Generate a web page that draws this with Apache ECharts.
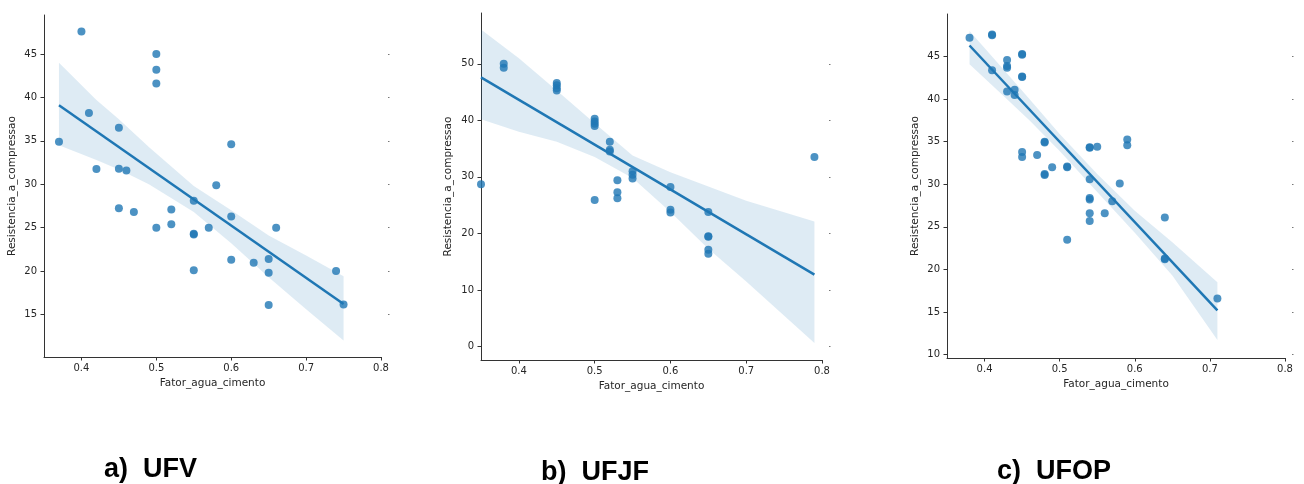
<!DOCTYPE html>
<html>
<head>
<meta charset="utf-8">
<script src="https://cdn.jsdelivr.net/npm/echarts@6/dist/echarts.min.js"></script>
<style>
  html, body { margin: 0; padding: 0; background: #fff; }
  #chart { width: 1304px; height: 484px; }
</style>
</head>
<body>
<div id="chart"></div>
<script>
// valores (Fator agua/cimento x Resistencia a compressao)
const xTicks = [0.4, 0.5, 0.6, 0.7, 0.8];

// a) UFV
const ufvX = [0.40, 0.50, 0.50, 0.50, 0.41, 0.45, 0.37, 0.60, 0.42, 0.45, 0.46, 0.58, 0.55, 0.45, 0.47, 0.52,
  0.60, 0.50, 0.52, 0.57, 0.66, 0.55, 0.55, 0.60, 0.63, 0.65, 0.55, 0.65, 0.74, 0.65, 0.75];
const ufvY = [47.6, 45.0, 43.2, 41.6, 38.2, 36.5, 34.9, 34.6, 31.75, 31.8, 31.6, 29.9, 28.1, 27.25, 26.8, 27.1,
  26.3, 25.0, 25.4, 25.0, 25.0, 24.2, 24.3, 21.3, 20.95, 21.4, 20.1, 19.8, 20.0, 16.1, 16.15];
const ufvFitX = [0.37, 0.75];
const ufvFitY = [39.1, 16.2];
const ufvBandX = [0.37, 0.42, 0.45, 0.49, 0.55, 0.60, 0.65, 0.70, 0.75];
const ufvBandUpper = [44.0, 39.7, 37.5, 34.3, 29.8, 27.0, 24.1, 21.8, 19.4];
const ufvBandLower = [34.5, 32.8, 31.7, 30.0, 26.8, 23.2, 19.3, 15.6, 12.0];
const ufvYTicks = [15, 20, 25, 30, 35, 40, 45];

// b) UFJF
const ufjfX = [0.38, 0.38, 0.45, 0.45, 0.45, 0.45, 0.50, 0.50, 0.50, 0.50, 0.52, 0.52, 0.52, 0.55, 0.55, 0.55,
  0.35, 0.53, 0.53, 0.53, 0.50, 0.60, 0.60, 0.60, 0.65, 0.65, 0.65, 0.65, 0.65, 0.79];
const ufjfY = [50.0, 49.3, 46.6, 46.2, 45.7, 45.3, 40.3, 39.8, 39.4, 39.0, 36.2, 34.8, 34.5, 31.0, 30.4, 29.7,
  28.7, 29.4, 27.3, 26.2, 25.9, 28.2, 24.2, 23.7, 23.8, 19.5, 19.4, 17.1, 16.4, 33.5];
const ufjfFitX = [0.35, 0.79];
const ufjfFitY = [47.6, 12.7];
const ufjfBandX = [0.35, 0.40, 0.45, 0.50, 0.55, 0.60, 0.65, 0.70, 0.79];
const ufjfBandUpper = [56.1, 51.0, 45.3, 39.5, 33.8, 30.8, 28.3, 25.8, 22.1];
const ufjfBandLower = [40.2, 38.0, 36.2, 33.5, 29.8, 23.8, 17.3, 11.5, 0.6];
const ufjfYTicks = [0, 10, 20, 30, 40, 50];

// c) UFOP
const ufopX = [0.38, 0.41, 0.41, 0.41, 0.43, 0.43, 0.43, 0.43, 0.45, 0.45, 0.45, 0.45, 0.44, 0.44, 0.45, 0.45,
  0.47, 0.48, 0.48, 0.48, 0.48, 0.49, 0.51, 0.51, 0.51, 0.54, 0.54, 0.55, 0.54, 0.54, 0.54, 0.54, 0.54,
  0.56, 0.57, 0.58, 0.59, 0.59, 0.64, 0.64, 0.64, 0.71];
const ufopY = [47.2, 47.6, 47.5, 43.4, 44.6, 43.9, 43.7, 40.9, 45.3, 45.2, 42.65, 42.6, 41.1, 40.5, 33.8, 33.2,
  33.45, 35.0, 34.9, 31.2, 31.1, 32.0, 32.1, 32.0, 23.5, 34.35, 34.3, 34.4, 30.6, 28.4, 28.2, 26.6, 25.7,
  26.6, 28.0, 30.1, 35.25, 34.6, 26.1, 21.3, 21.2, 16.6];
const ufopFitX = [0.38, 0.71];
const ufopFitY = [46.3, 15.2];
const ufopBandX = [0.38, 0.42, 0.46, 0.50, 0.55, 0.60, 0.65, 0.71];
const ufopBandUpper = [48.0, 44.0, 40.0, 35.9, 31.2, 26.9, 23.2, 18.5];
const ufopBandLower = [44.1, 40.8, 37.5, 33.9, 29.1, 24.3, 19.3, 11.7];
const ufopYTicks = [10, 15, 20, 25, 30, 35, 40, 45];

const captions = ['a)  UFV', 'b)  UFJF', 'c)  UFOP'];

const COR = '#1f77b4';
const TXT = '#262626';
const FONTE = 'DejaVu Sans';

const paineis = [
  { x: ufvX, y: ufvY, fx: ufvFitX, fy: ufvFitY, bx: ufvBandX, bu: ufvBandUpper, bl: ufvBandLower,
    yTicks: ufvYTicks, yMin: 10.1, yMax: 49.5, grid: { left: 44, top: 15, width: 337, height: 342 },
    nameGap: 26, cap: { x: 104, y: 472 } },
  { x: ufjfX, y: ufjfY, fx: ufjfFitX, fy: ufjfFitY, bx: ufjfBandX, bu: ufjfBandUpper, bl: ufjfBandLower,
    yTicks: ufjfYTicks, yMin: -2.4, yMax: 59, grid: { left: 481, top: 13, width: 341, height: 347 },
    nameGap: 27, cap: { x: 541, y: 475 } },
  { x: ufopX, y: ufopY, fx: ufopFitX, fy: ufopFitY, bx: ufopBandX, bu: ufopBandUpper, bl: ufopBandLower,
    yTicks: ufopYTicks, yMin: 9.6, yMax: 50, grid: { left: 947, top: 14, width: 338, height: 344 },
    nameGap: 26, cap: { x: 997, y: 474 } }
];

const zip = (a, b) => a.map((v, i) => [v, b[i]]);

const grid = [], xAxis = [], yAxis = [], series = [], graphic = [];

paineis.forEach((p, i) => {
  grid.push(p.grid);

  xAxis.push({
    type: 'value', gridIndex: i, min: 0.35, max: 0.8,
    name: 'Fator_agua_cimento', nameLocation: 'middle', nameGap: 20,
    nameTextStyle: { color: TXT, fontSize: 10.5, fontFamily: FONTE },
    axisLine: { onZero: false, lineStyle: { color: '#333', width: 1 } },
    axisTick: { show: true, length: 3.5, lineStyle: { color: '#333' }, customValues: xTicks },
    axisLabel: { color: TXT, fontSize: 10, fontFamily: FONTE, margin: 6, customValues: xTicks,
      formatter: v => v.toFixed(1) },
    splitLine: { show: false }
  });

  // eixo da esquerda
  yAxis.push({
    type: 'value', gridIndex: i, min: p.yMin, max: p.yMax,
    name: 'Resistencia_a_compressao', nameLocation: 'middle', nameGap: p.nameGap,
    nameTextStyle: { color: TXT, fontSize: 10.5, fontFamily: FONTE },
    axisLine: { show: true, onZero: false, lineStyle: { color: '#333', width: 1 } },
    axisTick: { show: true, length: 3.5, lineStyle: { color: '#333' }, customValues: p.yTicks },
    axisLabel: { color: TXT, fontSize: 10, fontFamily: FONTE, margin: 7, customValues: p.yTicks },
    splitLine: { show: false }
  });
  // marquinhas soltas do lado direito
  yAxis.push({
    type: 'value', gridIndex: i, min: p.yMin, max: p.yMax, position: 'right', offset: 7,
    axisLine: { show: false, onZero: false },
    axisTick: { show: true, length: 1.5, lineStyle: { color: '#777' }, customValues: p.yTicks },
    axisLabel: { show: false },
    splitLine: { show: false }
  });

  const yIdx = i * 2;

  // intervalo de confianca como poligono
  series.push({
    type: 'custom', xAxisIndex: i, yAxisIndex: yIdx, silent: true, z: 1,
    data: [[p.bx[0], p.bl[0]]],
    renderItem: (params, api) => {
      const cima = p.bx.map((x, k) => api.coord([x, p.bu[k]]));
      const baixo = p.bx.map((x, k) => api.coord([x, p.bl[k]])).reverse();
      return {
        type: 'polygon',
        shape: { points: cima.concat(baixo) },
        style: { fill: 'rgba(31,119,180,0.15)' }
      };
    }
  });

  series.push({
    type: 'scatter', xAxisIndex: i, yAxisIndex: yIdx,
    data: zip(p.x, p.y), symbolSize: 8, z: 3,
    itemStyle: { color: COR, opacity: 0.8 }
  });

  series.push({
    type: 'line', xAxisIndex: i, yAxisIndex: yIdx,
    data: zip(p.fx, p.fy), symbol: 'none', z: 4,
    lineStyle: { color: COR, width: 2.5 }
  });

  graphic.push({
    type: 'text', left: p.cap.x, top: p.cap.y - 16,
    style: { text: captions[i], fill: '#000', font: 'bold 27px "Liberation Sans"' }
  });
});

const chart = echarts.init(document.getElementById('chart'), null, { renderer: 'canvas' });
chart.setOption({
  backgroundColor: '#fff',
  animation: false,
  grid, xAxis, yAxis, series, graphic
});
</script>
</body>
</html>
